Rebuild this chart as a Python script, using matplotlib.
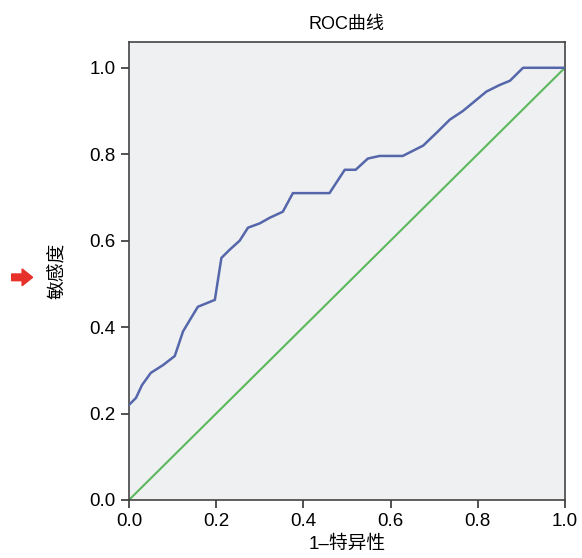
import matplotlib
matplotlib.use("Agg")
import matplotlib.pyplot as plt
from matplotlib.patches import FancyArrow

plt.rcParams['font.family'] = ['Liberation Sans', 'Noto Sans CJK SC', 'DejaVu Sans']

# ROC curve points
fpr = [0.0, 0.016, 0.03, 0.05, 0.078, 0.105, 0.124, 0.14, 0.158, 0.197,
       0.212, 0.231, 0.254, 0.273, 0.30, 0.323, 0.353, 0.376, 0.46, 0.495,
       0.52, 0.548, 0.575, 0.628, 0.675, 0.706, 0.736, 0.766, 0.79, 0.82,
       0.85, 0.874, 0.904, 1.0]
tpr = [0.22, 0.236, 0.266, 0.294, 0.312, 0.333, 0.39, 0.417, 0.447, 0.463,
       0.56, 0.579, 0.60, 0.63, 0.64, 0.653, 0.667, 0.71, 0.71, 0.764,
       0.764, 0.79, 0.796, 0.796, 0.82, 0.85, 0.88, 0.90, 0.92, 0.945,
       0.96, 0.97, 1.0, 1.0]
ref_line = [0.0, 1.0]

xticks = [0.0, 0.2, 0.4, 0.6, 0.8, 1.0]
yticks = [0.0, 0.2, 0.4, 0.6, 0.8, 1.0]

fig = plt.figure(figsize=(5.82, 5.58), dpi=100)
ax = fig.add_axes([0.2216, 0.104, 0.749, 0.821])
ax.set_facecolor("#eef0f2")

ax.plot(fpr, tpr, color="#5566aa", linewidth=1.8, zorder=3)
ax.plot(ref_line, ref_line, color="#5cb85c", linewidth=1.5, zorder=2)

ax.set_xlim(0, 1)
ax.set_ylim(0, 1.06)
ax.set_xticks(xticks)
ax.set_yticks(yticks)
ax.set_xticklabels([f"{t:.1f}" for t in xticks])
ax.set_yticklabels([f"{t:.1f}" for t in yticks])
ax.tick_params(direction="out", length=6, width=1.2, labelsize=13.5, color="#333333")
for s in ax.spines.values():
    s.set_color("#444444")
    s.set_linewidth(1.2)

ax.set_title("ROC曲线", fontsize=13, pad=9)
ax.set_xlabel("1–特异性", fontsize=13.5)
ax.xaxis.set_label_coords(0.5, -0.078)
ax.set_ylabel("敏感度", fontsize=13.5)
ax.yaxis.set_label_coords(-0.142, 0.5)

# red arrow marker on the left
fig.patches.append(FancyArrow(0.02, 0.503, 0.018, 0, width=0.012, head_width=0.03,
                              head_length=0.018, color="#e8302a",
                              transform=fig.transFigure, figure=fig))

fig.savefig("out.png", dpi=100)
